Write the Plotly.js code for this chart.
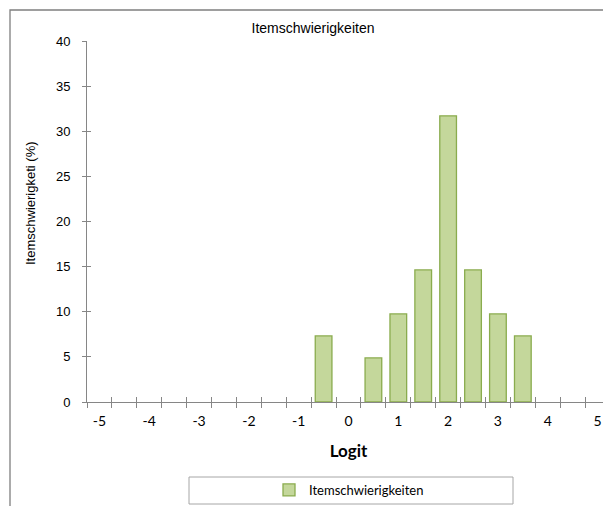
<!DOCTYPE html>
<html>
<head>
<meta charset="utf-8">
<script src="https://cdn.plot.ly/plotly-3.0.1.min.js"></script>
<style>
html,body{margin:0;padding:0;overflow:hidden;background:#fff;}
#chart{width:640px;height:506px;}
</style>
</head>
<body>
<div id="chart"></div>
<script>
// Data
const logitCategories = [-5,-4.5,-4,-3.5,-3,-2.5,-2,-1.5,-1,-0.5,0,0.5,1,1.5,2,2.5,3,3.5,4,4.5,5];
const percentValues   = [0,0,0,0,0,0,0,0,0,7.32,0,4.88,9.76,14.63,31.71,14.63,9.76,7.32,0,0,0];
const xTickLabels = [-5,-4,-3,-2,-1,0,1,2,3,4,5];
const yTickValues = [0,5,10,15,20,25,30,35,40];
const seriesName = 'Itemschwierigkeiten';
const chartTitle = 'Itemschwierigkeiten';
const xTitle = 'Logit';
const yTitle = 'Itemschwierigketi (%)';

const half = 0.25;
const boundaries = logitCategories.map(c => c - half).concat([logitCategories[logitCategories.length-1] + half]);
const xRange = [logitCategories[0] - half, logitCategories[logitCategories.length-1] + half];

const axisColor = '#868686';
const W = 640, H = 506;
const mL = 87, mR = 30, mT = 41, mB = 104;
const pw = W - mL - mR, ph = H - mT - mB;
const px = v => (v - mL) / pw;       // pixel x -> paper
const py = v => (H - mB - v) / ph;   // pixel y -> paper

const trace = {
  type: 'bar',
  x: logitCategories,
  y: percentValues.map(v => v === 0 ? null : v),
  name: seriesName,
  marker: {color: '#c4d79b', line: {color: '#8aac4e', width: 1.3}},
  showlegend: true,
  hoverinfo: 'x+y'
};

const tickAxisBase = {
  range: xRange, overlaying: 'x', anchor: 'y', showgrid: false, zeroline: false,
  showline: false, showticklabels: false, tickmode: 'array', tickvals: boundaries,
  tickcolor: axisColor, tickwidth: 1, fixedrange: true
};

const layout = {
  width: W, height: H,
  margin: {l: mL, r: mR, t: mT, b: mB, autoexpand: false},
  paper_bgcolor: '#fff', plot_bgcolor: '#fff',
  bargap: 0.33,
  showlegend: true,
  title: {
    text: chartTitle,
    font: {family: 'Liberation Sans, Arial, sans-serif', size: 14, color: '#000'},
    x: 313 / W, xanchor: 'center', y: 1 - 28 / H, yanchor: 'middle'
  },
  xaxis: {
    range: xRange, showgrid: false, zeroline: false,
    showline: true, linecolor: axisColor, linewidth: 1,
    tickmode: 'array', tickvals: xTickLabels, ticktext: xTickLabels.map(String),
    ticks: '', ticklabelstandoff: 6,
    tickfont: {family: 'Lato, Carlito, sans-serif', size: 14, color: '#000'},
    title: {text: '<b>' + xTitle + '</b>', font: {family: 'Lato, Carlito, sans-serif', size: 17, color: '#000'}, standoff: 17},
    automargin: false, fixedrange: true
  },
  xaxis2: Object.assign({}, tickAxisBase, {ticks: 'outside', ticklen: 5}),
  xaxis3: Object.assign({}, tickAxisBase, {ticks: 'inside', ticklen: 5}),
  yaxis: {
    range: [0, 40], showgrid: false, zeroline: false,
    showline: true, linecolor: axisColor, linewidth: 1,
    tickmode: 'array', tickvals: yTickValues,
    ticks: 'outside', ticklen: 4, tickcolor: axisColor, ticklabelstandoff: 9,
    tickfont: {family: 'Liberation Sans, Arial, sans-serif', size: 13, color: '#000'},
    automargin: false, fixedrange: true
  },
  yaxis2: {
    range: [0, 40], overlaying: 'y', anchor: 'x', side: 'left', showgrid: false, zeroline: false,
    showline: false, showticklabels: false, tickmode: 'array', tickvals: yTickValues,
    ticks: 'inside', ticklen: 4, tickcolor: axisColor, fixedrange: true
  },
  legend: {
    xref: 'container', yref: 'container',
    x: 349 / W, xanchor: 'center', y: 1 - 490 / H, yanchor: 'middle',
    orientation: 'h', bgcolor: 'rgba(0,0,0,0)', borderwidth: 0,
    font: {family: 'Lato, Carlito, sans-serif', size: 13, color: '#000'},
    itemwidth: 30
  },
  annotations: [{
    text: yTitle, textangle: -90, showarrow: false,
    xref: 'paper', yref: 'paper', x: px(30), y: py(203),
    xanchor: 'center', yanchor: 'middle',
    font: {family: 'Liberation Sans, Arial, sans-serif', size: 13, color: '#000'}
  }],
  shapes: [
    {type: 'rect', xref: 'paper', yref: 'paper', x0: px(189), x1: px(513), y0: py(504), y1: py(477),
     line: {color: '#a6a6a6', width: 1}, fillcolor: 'rgba(0,0,0,0)', layer: 'below'},
    {type: 'path', xref: 'paper', yref: 'paper',
     path: 'M ' + px(10) + ' ' + py(530) + ' L ' + px(10) + ' ' + py(10) + ' L ' + px(700) + ' ' + py(10),
     line: {color: '#7f7f7f', width: 1.3}}
  ]
};

// empty traces to render the overlay tick axes
const t2 = {type: 'scatter', x: [], y: [], xaxis: 'x2', yaxis: 'y', showlegend: false, hoverinfo: 'skip'};
const t3 = {type: 'scatter', x: [], y: [], xaxis: 'x3', yaxis: 'y', showlegend: false, hoverinfo: 'skip'};
const t4 = {type: 'scatter', x: [], y: [], xaxis: 'x', yaxis: 'y2', showlegend: false, hoverinfo: 'skip'};

Plotly.newPlot('chart', [trace, t2, t3, t4], layout, {displayModeBar: false, staticPlot: true});
</script>
</body>
</html>
